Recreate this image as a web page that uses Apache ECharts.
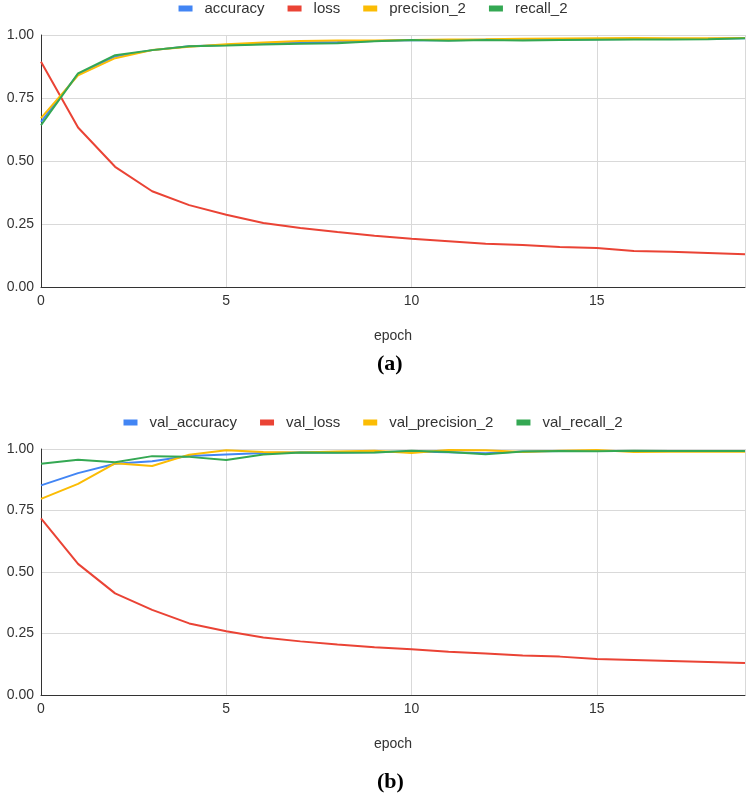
<!DOCTYPE html>
<html>
<head>
<meta charset="utf-8">
<script src="https://cdn.jsdelivr.net/npm/echarts@6/dist/echarts.min.js"></script>
<style>
  html, body { margin: 0; padding: 0; background: #fff; }
  #graph { width: 746px; height: 800px; }
</style>
</head>
<body>
<div id="graph"></div>
<script>
var epochs = [0, 1, 2, 3, 4, 5, 6, 7, 8, 9, 10, 11, 12, 13, 14, 15, 16, 17, 18, 19];

// (a) training metrics
var accuracy = [0.655, 0.845, 0.915, 0.94, 0.955, 0.96, 0.965, 0.97, 0.972, 0.976, 0.979, 0.979, 0.981, 0.981, 0.982, 0.983, 0.984, 0.984, 0.985, 0.987];
var loss = [0.894, 0.633, 0.477, 0.38, 0.325, 0.287, 0.254, 0.234, 0.218, 0.203, 0.191, 0.182, 0.172, 0.167, 0.159, 0.155, 0.143, 0.14, 0.135, 0.13];
var precision2 = [0.67, 0.84, 0.908, 0.94, 0.953, 0.963, 0.97, 0.976, 0.978, 0.978, 0.98, 0.982, 0.983, 0.985, 0.986, 0.987, 0.988, 0.987, 0.987, 0.988];
var recall2 = [0.642, 0.848, 0.92, 0.94, 0.955, 0.958, 0.962, 0.965, 0.967, 0.975, 0.98, 0.977, 0.98, 0.978, 0.98, 0.981, 0.982, 0.982, 0.983, 0.987];

// (b) validation metrics
var valAccuracy = [0.852, 0.902, 0.94, 0.95, 0.972, 0.978, 0.984, 0.986, 0.986, 0.987, 0.99, 0.987, 0.983, 0.99, 0.992, 0.992, 0.992, 0.992, 0.992, 0.992];
var valLoss = [0.718, 0.533, 0.413, 0.346, 0.291, 0.259, 0.234, 0.218, 0.205, 0.194, 0.186, 0.176, 0.169, 0.161, 0.156, 0.146, 0.142, 0.138, 0.134, 0.13];
var valPrecision2 = [0.797, 0.858, 0.942, 0.931, 0.977, 0.995, 0.988, 0.986, 0.99, 0.993, 0.984, 0.996, 0.995, 0.988, 0.993, 0.996, 0.988, 0.989, 0.989, 0.989];
var valRecall2 = [0.94, 0.956, 0.946, 0.971, 0.968, 0.955, 0.978, 0.986, 0.985, 0.986, 0.993, 0.988, 0.979, 0.99, 0.992, 0.991, 0.993, 0.992, 0.992, 0.992];

var yTicks = ['0.00', '0.25', '0.50', '0.75', '1.00'];
var xTicks = [0, 5, 10, 15];

var colors = ['#4285f4', '#ea4335', '#fbbc04', '#34a853'];
var fontFam = '"Liberation Sans", Arial, sans-serif';
var capFont = '"Liberation Serif", "Times New Roman", serif';

function pairs(vals) {
  return epochs.map(function (e, i) { return [e, vals[i]]; });
}

function xAx(idx) {
  return {
    type: 'value', gridIndex: idx, min: 0, max: 19, interval: 5,
    name: 'epoch', nameLocation: 'middle', nameGap: 42,
    nameTextStyle: { color: '#333', fontSize: 14, fontFamily: fontFam },
    axisLine: { show: true, onZero: false, lineStyle: { color: '#333', width: 1 } },
    axisTick: { show: false },
    axisLabel: {
      color: '#333', fontSize: 14, fontFamily: fontFam, margin: 7, showMaxLabel: false,
      formatter: function (v) { return xTicks.indexOf(v) >= 0 ? String(v) : ''; }
    },
    splitLine: { show: true, lineStyle: { color: '#d9d9d9', width: 1 } }
  };
}

function yAx(idx) {
  return {
    type: 'value', gridIndex: idx, min: 0, max: 1, interval: 0.25,
    axisLine: { show: true, lineStyle: { color: '#333', width: 1 } },
    axisTick: { show: false },
    axisLabel: {
      color: '#333', fontSize: 14, fontFamily: fontFam, margin: 7,
      formatter: function (v) { return yTicks[Math.round(v * 4)]; }
    },
    splitLine: { show: true, lineStyle: { color: '#d9d9d9', width: 1 } }
  };
}

function line(name, vals, color, idx) {
  return {
    name: name, type: 'line', xAxisIndex: idx, yAxisIndex: idx,
    data: pairs(vals), showSymbol: false, symbol: 'none',
    lineStyle: { color: color, width: 2 }, itemStyle: { color: color }
  };
}

var legendBase = {
  left: 'center', icon: 'rect', itemWidth: 14, itemHeight: 6, itemGap: 23,
  textStyle: { color: '#333', fontSize: 15, fontFamily: fontFam, padding: [0, 0, 0, 7] }
};

var dom = document.getElementById('graph');
var myChart = echarts.init(dom, null, { renderer: 'canvas' });

var option = {
  backgroundColor: '#fff',
  animation: false,
  graphic: [
    { type: 'text', left: 377, top: 353, style: { text: '(a)', font: 'bold 22px ' + capFont, fill: '#000' } },
    { type: 'text', left: 377, top: 771, style: { text: '(b)', font: 'bold 22px ' + capFont, fill: '#000' } }
  ],
  legend: [
    Object.assign({}, legendBase, { top: -4, data: ['accuracy', 'loss', 'precision_2', 'recall_2'] }),
    Object.assign({}, legendBase, { top: 410, data: ['val_accuracy', 'val_loss', 'val_precision_2', 'val_recall_2'] })
  ],
  grid: [
    { left: 41, right: 1, top: 35, height: 252 },
    { left: 41, right: 1, top: 449, height: 246 }
  ],
  xAxis: [xAx(0), xAx(1)],
  yAxis: [yAx(0), yAx(1)],
  series: [
    line('accuracy', accuracy, colors[0], 0),
    line('loss', loss, colors[1], 0),
    line('precision_2', precision2, colors[2], 0),
    line('recall_2', recall2, colors[3], 0),
    line('val_accuracy', valAccuracy, colors[0], 1),
    line('val_loss', valLoss, colors[1], 1),
    line('val_precision_2', valPrecision2, colors[2], 1),
    line('val_recall_2', valRecall2, colors[3], 1)
  ]
};

if (option && typeof option === 'object') {
  myChart.setOption(option, true);
}
</script>
</body>
</html>
